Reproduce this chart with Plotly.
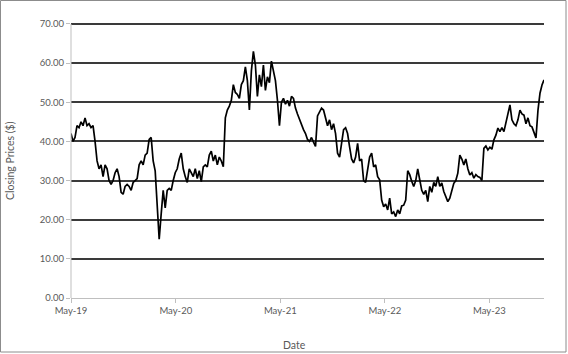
import pandas as pd
import plotly.graph_objects as go

# Weekly closing prices (starting May 2019)
start_date = "2019-05-01"
prices = [
    42, 40, 41, 44, 43.5, 45, 44, 46, 44, 44.5, 43.5, 44, 40, 35, 33, 34, 31, 34, 33, 30,
    29, 30, 32, 33, 31, 27, 26.5, 28.5, 29, 28.5, 27.5, 29.5, 30, 30.5, 34, 35, 34, 36.5, 37, 40.5,
    41, 35, 32.5, 22, 15, 21.5, 27.5, 23, 27.5, 28, 27.5, 30, 32, 33, 35.5, 37, 33, 31, 29.5, 33,
    32, 31, 33, 30.5, 32.5, 29.7, 33.5, 34, 33.5, 36.5, 37.5, 35, 36.5, 34, 36, 35, 33.5, 46, 48, 49,
    50.5, 54.5, 52.5, 52, 51, 54.5, 55.5, 59, 55.5, 48, 58, 63, 59.5, 51.5, 57, 54, 59.5, 53, 56.5, 55,
    60.5, 58, 55.5, 50.5, 44, 50, 51, 49.5, 50.5, 49, 51.5, 51, 48.5, 47, 45.5, 44, 43, 42, 40.5,
    40, 41, 39.8, 38.7, 46.5, 47.5, 48.5, 48, 46, 44, 45.5, 43, 44.5, 42, 37, 36, 39.5, 43, 43.5, 42,
    38.6, 35.5, 34.5, 36, 39.5, 35, 35.5, 30, 29.5, 32.5, 36, 37, 33.5, 34, 31, 30.2, 25, 23.3, 24, 22.5,
    25.5, 21.5, 22, 20.8, 22.5, 21.5, 23.5, 23.7, 25, 32.5, 31.5, 29.8, 28.5, 30, 33, 30.2, 27.5, 26.5, 27.5,
    24.6, 28.5, 27, 29.5, 28.5, 31, 28.5, 29.4, 27.2, 25.9, 24.6, 25.5, 27.6, 29.3, 30, 31.9, 36.5, 35.5, 34,
    35.5, 33, 31.4, 32, 30.6, 31.5, 31, 30.8, 30, 38.2, 38.8, 37.8, 38.5, 38, 40.4, 41.6, 43.4, 42.5, 43.5,
    42.5, 45, 47, 49.3, 45.5, 44.5, 44, 45.5, 48, 47, 46.7, 44.5, 46, 44, 43.7, 42.5, 40.9, 48, 52.3, 54.4,
    55.7,
]
dates = pd.date_range(start_date, periods=len(prices), freq="7D")

x_tick_vals = ["2019-05-01", "2020-05-01", "2021-05-01", "2022-05-01", "2023-05-01"]
x_tick_text = ["May-19", "May-20", "May-21", "May-22", "May-23"]
y_tick_vals = [0, 10, 20, 30, 40, 50, 60, 70]
y_tick_text = ["0.00", "10.00", "20.00", "30.00", "40.00", "50.00", "60.00", "70.00"]

W, H = 568, 354
L, R, T, B = 71, 24, 20, 56
pw, ph = W - L - R, H - T - B

def px(xp):
    return (xp - L) / pw

def py(yp):
    return (H - B - yp) / ph

fig = go.Figure()
fig.add_trace(go.Scatter(
    x=dates, y=prices, mode="lines",
    line=dict(color="#000000", width=1.7),
    showlegend=False, hoverinfo="skip",
))

font_family = "Lato, Carlito, Calibri, sans-serif"
tick_font = dict(family=font_family, size=9.5, color="#595959")

fig.update_layout(
    width=W, height=H,
    margin=dict(l=L, r=R, t=T, b=B, pad=0),
    paper_bgcolor="#ffffff", plot_bgcolor="#ffffff",
    xaxis=dict(
        range=[dates[0], dates[-1]],
        tickvals=x_tick_vals, ticktext=x_tick_text,
        showgrid=False, zeroline=False,
        showline=True, linecolor="#bfbfbf", linewidth=1,
        ticks="outside", ticklen=4, tickcolor="#bfbfbf",
        tickfont=tick_font,
    ),
    yaxis=dict(
        range=[0, 71],
        tickvals=y_tick_vals, ticktext=y_tick_text,
        showgrid=True, gridcolor="#3a3a3a", gridwidth=1.5,
        zeroline=True, zerolinecolor="#bfbfbf", zerolinewidth=1,
        showline=False,
        ticks="outside", ticklen=4, tickcolor="#bfbfbf",
        tickfont=tick_font,
    ),
    annotations=[
        dict(text="Closing Prices ($)", textangle=-90, xref="paper", yref="paper",
             x=px(10), y=py(161), xanchor="center", yanchor="middle", showarrow=False,
             font=dict(family=font_family, size=10.5, color="#595959")),
        dict(text="Date", xref="paper", yref="paper",
             x=px(294), y=py(345), xanchor="center", yanchor="middle", showarrow=False,
             font=dict(family=font_family, size=10.5, color="#595959")),
    ],
    shapes=[
        dict(type="rect", xref="paper", yref="paper",
             x0=px(0.5), x1=px(566), y0=py(352), y1=py(0.5),
             line=dict(color="#8c8c8c", width=1), fillcolor="rgba(0,0,0,0)", layer="below"),
        # light-gray vertical axis line from 0 to 70
        dict(type="line", xref="paper", yref="y", x0=0, x1=0, y0=0, y1=70,
             line=dict(color="#bfbfbf", width=1), layer="above"),
    ],
)

fig.write_html("out.html")
